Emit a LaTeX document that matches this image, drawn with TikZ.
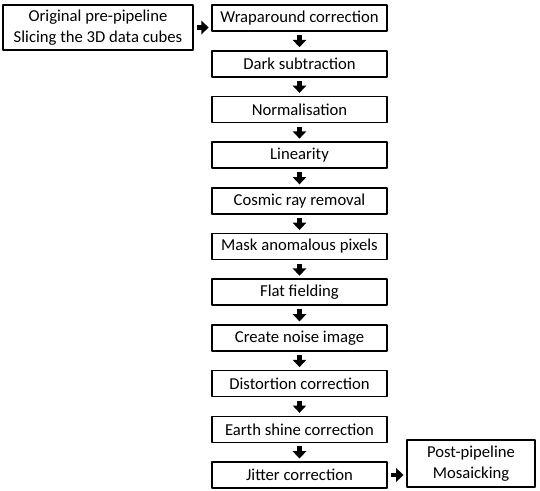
\documentclass[tikz,border=0pt]{standalone}
\usepackage{fontspec}
\setmainfont{Carlito}
\usetikzlibrary{arrows.meta,positioning}
\begin{document}
\begin{tikzpicture}[x=0.75pt,y=-0.75pt, font=\fontsize{12.5}{15.5}\selectfont, line join=round,
  box/.style={draw,line width=1.2pt,inner sep=0pt,align=center,minimum width=131pt,minimum height=19.5pt},
  blk/.style={line width=3.6pt,-{Triangle[width=10pt,length=5.5pt]},shorten <=2.5pt,shorten >=2pt}]
\def\xc{299.5} \def\ytop{18} \def\dy{45.7}
\useasboundingbox (0,0) rectangle (540,490);
% main chain
\foreach \name/\txt [count=\i from 0] in {wrap/Wraparound correction, dark/Dark subtraction,
    norm/Normalisation, lin/Linearity, cosmic/Cosmic ray removal, mask/Mask anomalous pixels,
    flat/Flat fielding, noise/Create noise image, dist/Distortion correction,
    earth/Earth shine correction, jit/Jitter correction}
  \node[box] (\name) at (\xc,{\ytop+\dy*\i}) {\txt};
\foreach \a/\b in {wrap/dark, dark/norm, norm/lin, lin/cosmic, cosmic/mask, mask/flat,
    flat/noise, noise/dist, dist/earth, earth/jit}
  \draw[blk] (\a) -- (\b);
% before and after
\node[box,minimum width=142.5pt,minimum height=34pt] (pre) at (98,27.5)
  {Original pre-pipeline\\Slicing the 3D data cubes};
\node[box,minimum width=96pt,minimum height=35.25pt] (post) at (471,463.5)
  {Post-pipeline\\Mosaicking};
\draw[blk] (pre) -- (pre -| wrap.west);
\draw[blk] (jit) -- (jit -| post.west);
\end{tikzpicture}
\end{document}
